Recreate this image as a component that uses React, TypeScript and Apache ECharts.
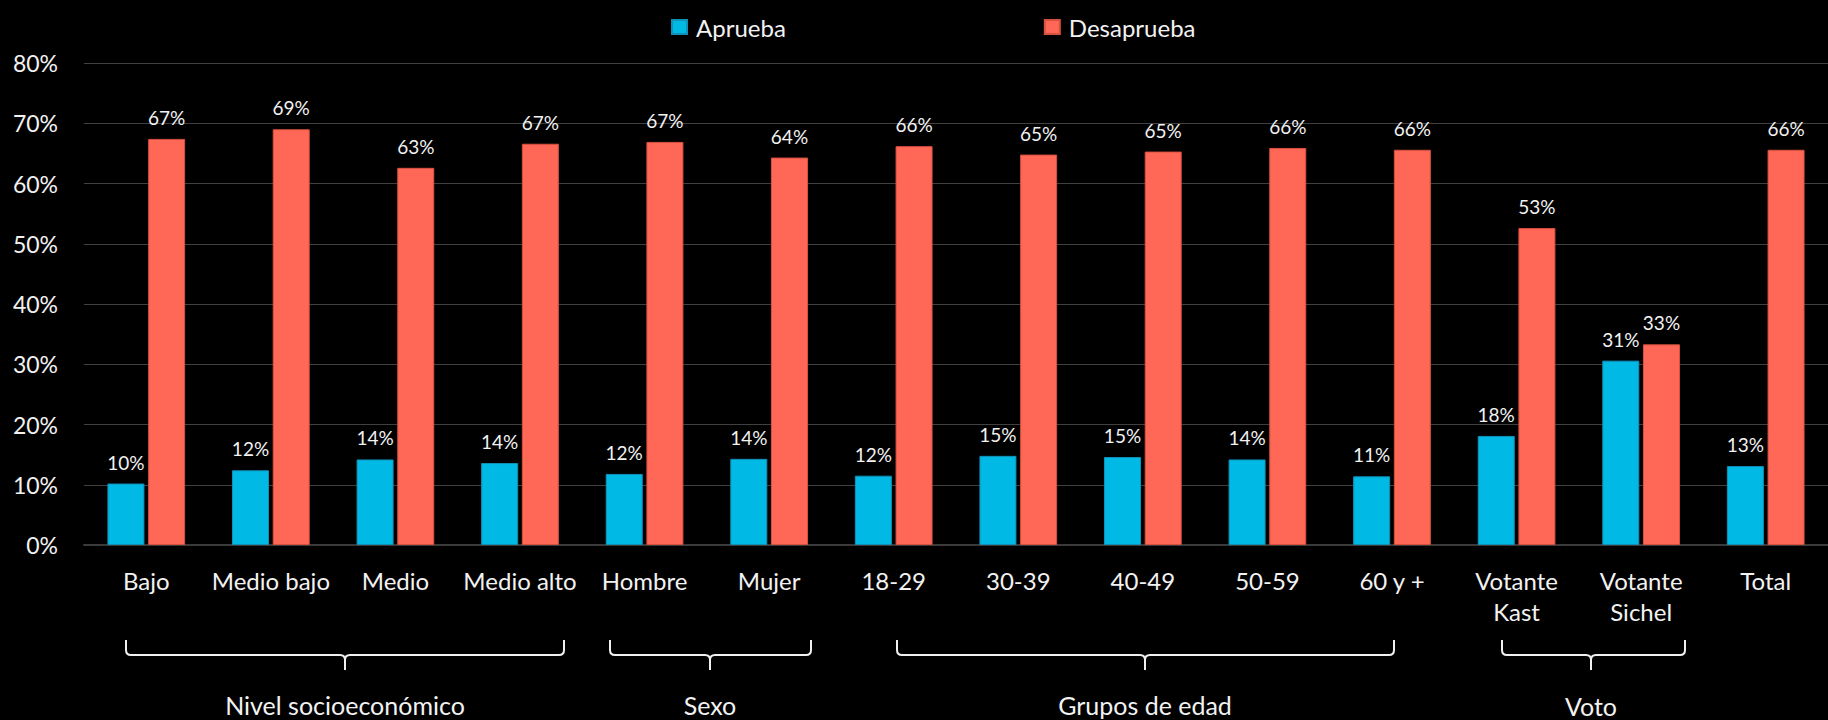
import React, { useEffect, useRef } from "react";
import * as echarts from "echarts";

const categories = [
  "Bajo", "Medio bajo", "Medio", "Medio alto", "Hombre", "Mujer",
  "18-29", "30-39", "40-49", "50-59", "60 y +",
  "Votante\nKast", "Votante\nSichel", "Total",
];
const aprueba = [10.2, 12.4, 14.2, 13.6, 11.8, 14.3, 11.5, 14.8, 14.6, 14.2, 11.4, 18.1, 30.6, 13.1];
const desaprueba = [67.4, 69.0, 62.6, 66.6, 66.9, 64.3, 66.2, 64.8, 65.3, 65.9, 65.6, 52.6, 33.3, 65.6];
const seriesNames = ["Aprueba", "Desaprueba"];
const groupLabels = ["Nivel socioeconómico", "Sexo", "Grupos de edad", "Voto"];

// bracket layout (annotation positions, pixels)
const bracketLayout = [
  { x1: 126, x2: 564, xc: 345, ty: 705 },
  { x1: 610, x2: 811, xc: 710, ty: 705 },
  { x1: 897, x2: 1394, xc: 1145, ty: 705 },
  { x1: 1502, x2: 1685, xc: 1591, ty: 706 },
];

const FONT = "Lato, 'Open Sans', sans-serif";
const TXT = "#f2f2f2";

function bracket(x1: number, x2: number, xc: number) {
  const yTop = 640, yLine = 655, yTip = 670, r = 5;
  const st = { stroke: "#f0f0f0", lineWidth: 2, fill: "none" };
  const L = (a: number, b: number, c: number, d: number) => ({ type: "line", shape: { x1: a, y1: b, x2: c, y2: d }, style: st });
  const B = (a: number, b: number, cx: number, cy: number, c: number, d: number) => ({
    type: "bezierCurve", shape: { x1: a, y1: b, cpx1: cx, cpy1: cy, x2: c, y2: d }, style: st,
  });
  return [
    L(x1, yTop, x1, yLine - r),
    B(x1, yLine - r, x1, yLine, x1 + r, yLine),
    L(x1 + r, yLine, xc - r, yLine),
    B(xc - r, yLine, xc, yLine, xc, yLine + r),
    B(xc + r, yLine, xc, yLine, xc, yLine + r),
    L(xc, yLine + r, xc, yTip),
    L(xc + r, yLine, x2 - r, yLine),
    B(x2 - r, yLine, x2, yLine, x2, yLine - r),
    L(x2, yLine - r, x2, yTop),
  ];
}

export default function App() {
  const ref = useRef<HTMLDivElement>(null);
  useEffect(() => {
    document.body.style.background = "#000";
    const chart = echarts.init(ref.current!, null, { renderer: "svg" });
    const graphics: any[] = [];
    bracketLayout.forEach((b, i) => {
      graphics.push(...bracket(b.x1, b.x2, b.xc));
      graphics.push({
        type: "text",
        x: b.xc,
        y: b.ty,
        style: { text: groupLabels[i], fill: TXT, font: `25px ${FONT}`, align: "center", verticalAlign: "middle" },
      });
    });
    const labelCfg = {
      show: true,
      position: "top",
      distance: 12,
      color: TXT,
      fontSize: 19,
      fontFamily: FONT,
      formatter: (p: any) => Math.round(p.value) + "%",
    };
    chart.setOption({
      animation: false,
      backgroundColor: "#000",
      textStyle: { fontFamily: FONT },
      legend: {
        left: 666,
        top: 8,
        itemWidth: 15,
        itemHeight: 14,
        itemGap: 258,
        icon: "rect",
        textStyle: { color: TXT, fontSize: 24, fontFamily: FONT, lineHeight: 28, padding: [0, 0, 0, 4] },
        data: seriesNames,
      },
      grid: { left: 84, right: -8, top: 63, bottom: 175, containLabel: false },
      xAxis: {
        type: "category",
        data: categories,
        axisLine: { show: true, lineStyle: { color: "#3a3a3a", width: 2 } },
        axisTick: { show: false },
        axisLabel: { color: TXT, fontSize: 24, fontFamily: FONT, margin: 20, lineHeight: 31, interval: 0 },
      },
      yAxis: {
        type: "value",
        min: 0,
        max: 80,
        interval: 10,
        axisLine: { show: false },
        axisTick: { show: false },
        axisLabel: { color: TXT, fontSize: 23, fontFamily: FONT, margin: 26, formatter: "{value}%" },
        splitLine: { lineStyle: { color: "#404040", width: 1 } },
      },
      series: [
        {
          name: seriesNames[0],
          type: "bar",
          data: aprueba,
          barWidth: 37,
          barGap: "10%",
          itemStyle: { color: "#00B9E5", borderColor: "#1191b8", borderWidth: 1 },
          label: labelCfg,
        },
        {
          name: seriesNames[1],
          type: "bar",
          data: desaprueba,
          barWidth: 37,
          barGap: "10%",
          itemStyle: { color: "#FF6856", borderColor: "#d9503f", borderWidth: 1 },
          label: labelCfg,
        },
      ],
      graphic: graphics,
    });
    return () => chart.dispose();
  }, []);
  return (
    <div
      ref={ref}
      style={{ position: "absolute", left: 0, top: 0, width: 1828, height: 720, background: "#000" }}
    />
  );
}
